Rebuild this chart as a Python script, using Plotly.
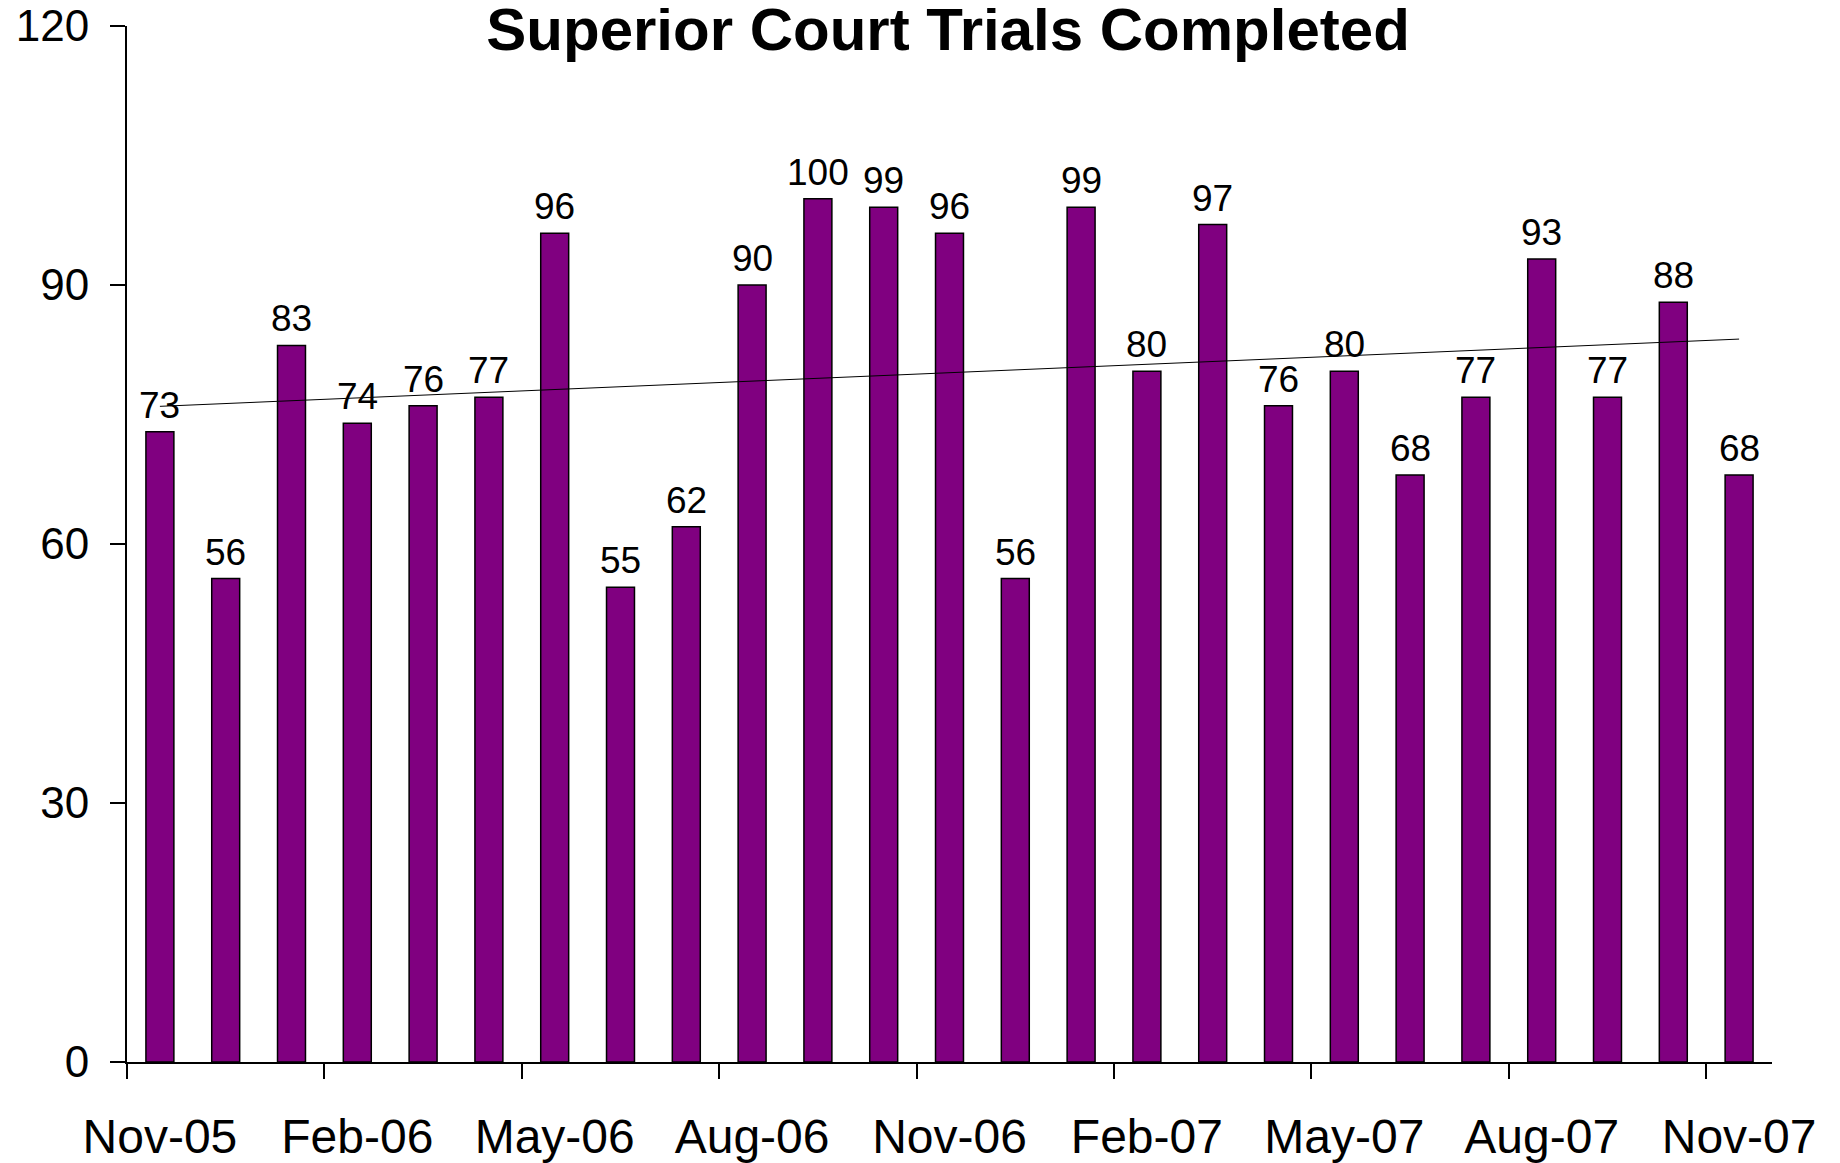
import numpy as np
import plotly.graph_objects as go

months = ["Nov-05", "Dec-05", "Jan-06", "Feb-06", "Mar-06", "Apr-06", "May-06",
          "Jun-06", "Jul-06", "Aug-06", "Sep-06", "Oct-06", "Nov-06", "Dec-06",
          "Jan-07", "Feb-07", "Mar-07", "Apr-07", "May-07", "Jun-07", "Jul-07",
          "Aug-07", "Sep-07", "Oct-07", "Nov-07"]
trials = [73, 56, 83, 74, 76, 77, 96, 55, 62, 90, 100, 99, 96, 56, 99,
          80, 97, 76, 80, 68, 77, 93, 77, 88, 68]

# linear trendline, same as the excel one
idx = np.arange(len(trials))
slope, icpt = np.polyfit(idx, trials, 1)
trend = slope * idx + icpt

FONT = "Liberation Sans, Arial, sans-serif"

fig = go.Figure()
fig.add_trace(go.Bar(
    x=months,
    y=trials,
    marker=dict(color="#800080", line=dict(color="#000000", width=1.5)),
    showlegend=False,
))
fig.add_trace(go.Scatter(
    x=months,
    y=trend,
    mode="lines",
    line=dict(color="#000000", width=1),
    showlegend=False,
))

for m, v in zip(months, trials):
    fig.add_annotation(
        x=m, y=v, text=str(v), showarrow=False,
        yanchor="bottom", yshift=4,
        font=dict(family=FONT, size=37, color="#000"),
    )

# page body has an 8px margin, margins below account for it
fig.update_layout(
    width=1840,
    height=1163,
    paper_bgcolor="white",
    plot_bgcolor="white",
    bargap=0.575,
    margin=dict(l=119, r=76, t=18, b=109, autoexpand=False),
    title=dict(
        text="<b>Superior Court Trials Completed</b>",
        font=dict(family=FONT, size=60, color="#000"),
        x=0.5109, xanchor="center",
        y=0.982, yanchor="middle",
        automargin=False,
    ),
    xaxis=dict(
        type="category",
        tickmode="linear", tick0=0, dtick=3,
        tickson="boundaries",
        tickangle=0,
        automargin=False,
        ticks="outside", ticklen=15, tickwidth=2, tickcolor="#000",
        showline=True, linecolor="#000", linewidth=2,
        showgrid=False,
        ticklabelstandoff=31,
        tickfont=dict(family=FONT, size=48, color="#000"),
    ),
    yaxis=dict(
        range=[0, 120],
        tickmode="linear", tick0=0, dtick=30,
        automargin=False,
        ticklabeloverflow="allow",
        ticks="outside", ticklen=15, tickwidth=2, tickcolor="#000",
        showline=True, linecolor="#000", linewidth=2,
        showgrid=False, zeroline=False,
        ticklabelstandoff=12,
        tickfont=dict(family=FONT, size=44, color="#000"),
    ),
)

fig.write_html("out.html")
